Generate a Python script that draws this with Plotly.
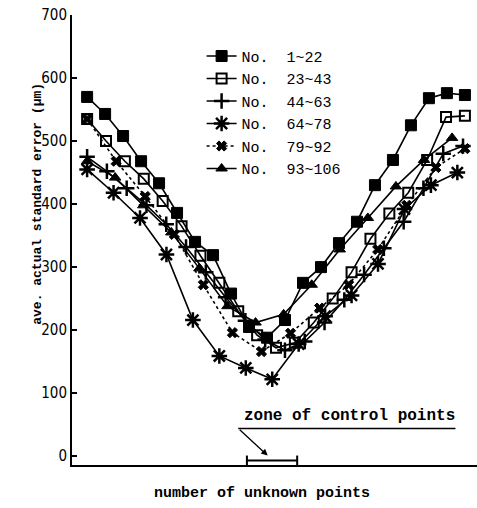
import plotly.graph_objects as go

# ---- data (in μm) ----
names = ["No.  1~22", "No.  23~43", "No.  44~63", "No.  64~78", "No.  79~92", "No.  93~106"]

s1 = [570, 543, 508, 468, 433, 386, 340, 319, 258, 205, 188, 216, 275, 300, 338, 372, 430, 470, 525, 568, 576, 573]
s2 = [535, 500, 468, 440, 405, 365, 318, 275, 230, 192, 172, 180, 212, 250, 292, 345, 385, 418, 470, 538, 540]
s3 = [475, 452, 425, 398, 368, 332, 292, 252, 215, 185, 168, 182, 212, 248, 288, 330, 372, 425, 480, 492]
s4 = [455, 418, 378, 320, 216, 159, 140, 122, 178, 222, 255, 305, 392, 430, 450]
s5 = [535, 468, 412, 352, 272, 196, 166, 195, 235, 272, 328, 398, 458, 488]
s6 = [468, 442, 398, 355, 298, 238, 212, 225, 272, 328, 378, 428, 470, 505]

# relative end position of each series along the (unscaled) x axis
x_end = [1.0, 1.0, 0.995, 0.98, 1.0, 0.966]

series = [s1, s2, s3, s4, s5, s6]
symbols = ["square", "square-open", "cross-thin", "asterisk", "x", "triangle-up"]
msizes = [11, 10, 11, 13, 9, 10]
dashes = ["solid", "solid", "solid", "solid", "dot", "solid"]

fig = go.Figure()
for ys, nm, sym, ms, dsh, xe in zip(series, names, symbols, msizes, dashes, x_end):
    n = len(ys)
    xs = [xe * i / (n - 1) for i in range(n)]
    fig.add_trace(go.Scatter(
        x=xs, y=ys, name=nm, mode="lines+markers",
        line=dict(color="black", width=1.6, dash=dsh),
        marker=dict(symbol=sym, size=ms, color="black",
                    line=dict(color="black", width=2.5 if sym in ("cross-thin", "asterisk") else (2 if sym == "square-open" else 1))),
    ))

# zone of control points bracket
zx0, zx1 = 0.423, 0.556
fig.add_shape(type="line", x0=zx0, x1=zx1, y0=-7, y1=-7, line=dict(color="black", width=2))
fig.add_shape(type="line", x0=zx0, x1=zx0, y0=-14, y1=1, line=dict(color="black", width=2))
fig.add_shape(type="line", x0=zx1, x1=zx1, y0=-14, y1=1, line=dict(color="black", width=2))
# underline of label
fig.add_shape(type="line", x0=0.40, x1=0.975, y0=44, y1=44, line=dict(color="black", width=1.5))
fig.add_annotation(x=0.478, y=1, ax=0.40, ay=44, axref="x", ayref="y", xref="x", yref="y",
                   text="", showarrow=True, arrowhead=2, arrowsize=1, arrowwidth=1.3, arrowcolor="black")
fig.add_annotation(x=0.41, y=47, xref="x", yref="y", text="<b>zone of control points</b>",
                   showarrow=False, xanchor="left", yanchor="bottom",
                   font=dict(family="Liberation Mono, DejaVu Sans Mono, monospace", size=16, color="black"))

# axis titles as annotations
fig.add_annotation(xref="paper", yref="paper", x=-0.087, y=0.58, textangle=-90,
                   text="<b>ave. actual standard error (μm)</b>", showarrow=False,
                   xanchor="center", yanchor="middle",
                   font=dict(family="Liberation Mono, DejaVu Sans Mono, monospace", size=13, color="black"))
fig.add_annotation(xref="paper", yref="paper", x=0.47, y=-0.04,
                   text="<b>number of unknown points</b>", showarrow=False,
                   xanchor="center", yanchor="top",
                   font=dict(family="Liberation Mono, DejaVu Sans Mono, monospace", size=15, color="black"))

fig.update_xaxes(range=[-0.04, 1.032], showticklabels=False, ticks="", showgrid=False,
                 zeroline=False, showline=True, linecolor="black", linewidth=2)
fig.update_yaxes(range=[-14, 700], tickvals=[0, 100, 200, 300, 400, 500, 600, 700],
                 ticks="inside", ticklen=5, tickwidth=1.5, tickcolor="black",
                 showgrid=False, zeroline=False, showline=True, linecolor="black", linewidth=2,
                 tickfont=dict(family="DejaVu Sans Condensed, Liberation Sans Narrow, sans-serif", size=15, color="black"))

fig.update_layout(
    width=477, height=508,
    margin=dict(l=72, r=0, t=15, b=43),
    paper_bgcolor="white", plot_bgcolor="white",
    showlegend=True,
    legend=dict(x=0.32, y=0.945, xanchor="left", yanchor="top", bgcolor="rgba(0,0,0,0)",
                tracegroupgap=0, itemwidth=30,
                font=dict(family="Liberation Mono, DejaVu Sans Mono, monospace", size=15, color="black")),
)

fig.write_html("out.html")
